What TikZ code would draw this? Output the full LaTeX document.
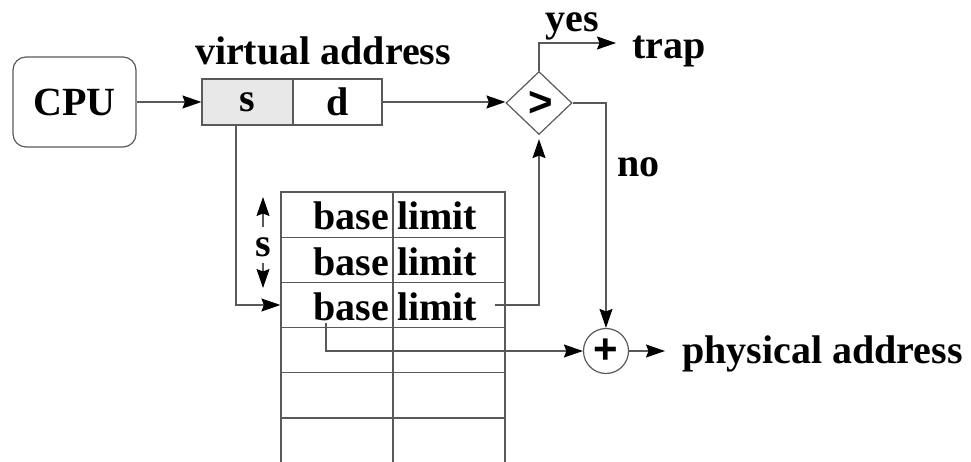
\documentclass[tikz,border=0pt]{standalone}
\usepackage{fontspec}
\setmainfont{Liberation Serif}
\newfontfamily\sansf{Liberation Sans}
\usetikzlibrary{shapes.geometric,arrows.meta}
\begin{document}
\begin{tikzpicture}[x=1pt,y=-1pt,
  line/.style={draw=black!65, line width=1.2pt},
  arr/.style={line, -{Stealth[length=19pt,width=13pt,inset=2.5pt,color=black]}},
  big/.style={font=\fontsize{40}{44}\selectfont\bfseries},
  box/.style={line, rectangle, inner sep=0pt, big},
  cell/.style={line, rectangle, minimum width=112pt, minimum height=45.2pt, inner sep=0pt},
  txt/.style={big, inner sep=0pt},
  sym/.style={inner sep=0pt, font=\sansf\bfseries\fontsize{42}{46}\selectfont}]
\useasboundingbox (0,0) rectangle (971,462);
% top row
\node[box, rounded corners=13pt, minimum width=123pt, minimum height=90pt] (cpu) at (74.5,102) {CPU};
\node[box, fill=black!9, minimum width=91pt, minimum height=46pt] (s) at (247.5,102) {s};
\node[box, minimum width=89pt, minimum height=46pt] (d) at (337.5,102) {d};
\node[txt, anchor=base] (va) at (323,65) {virtual address};
\node[diamond, line, minimum width=66pt, minimum height=63pt, inner sep=0pt] (cmp) at (539,103) {};
\node[sym] (gt) at (541,104) {>};
\node[txt, anchor=base] (yes) at (572,32) {yes};
\node[txt, anchor=base west] (trap) at (632,59) {trap};
\node[txt, anchor=base west] (no) at (617,177) {no};
\node[circle, line, minimum size=45pt, inner sep=0pt] (plus) at (606,351) {};
\node[sym] (pl) at (plus) {+};
\node[txt, anchor=base west] (pa) at (682,363) {physical address};
% table
\foreach \i in {1,...,5} {
  \pgfmathsetmacro{\yc}{192+45.2*(\i-0.5)}
  \node[cell] (a\i) at (337,\yc) {};
  \node[cell] (b\i) at (449,\yc) {};
}
\node[cell, minimum height=60pt] (a6) at (337,448) {};
\node[cell, minimum height=60pt] (b6) at (449,448) {};
\foreach \i/\yb in {1/230,2/275,3/320} {
  \node[txt, anchor=base east] (base\i) at (389,\yb) {base};
  \node[txt, anchor=base west] (limit\i) at (397,\yb) {limit};
}
% s index label
\node[txt] (sl) at (263,247) {s};
\coordinate (sup) at (263,197);
\coordinate (sdn) at (263,288);
\coordinate (supst) at (263,227);
\coordinate (sdnst) at (263,263);
\draw[arr] (supst) -- (sup);
\draw[arr] (sdnst) -- (sdn);
% connectors
\coordinate (sx) at (236,0);
\coordinate (trapend) at (616,43);
\coordinate (lstart) at (495,305);
\coordinate (bstart) at (326,323);
\coordinate (paend) at (665,351);
\draw[arr] (cpu.east) -- (s.west);
\draw[arr] (d.east) -- (d.east -| cmp.west);
\draw[arr] (cmp.north) |- (trapend);
\draw[arr] (cmp.east) -| (plus.north);
\draw[arr] (s.south -| sx) |- (a3.west);
\draw[arr] (lstart) -| ([yshift=-4pt]cmp.south);
\draw[arr] (bstart) |- (plus.west);
\draw[arr] (plus.east) -- (paend);
\end{tikzpicture}
\end{document}
